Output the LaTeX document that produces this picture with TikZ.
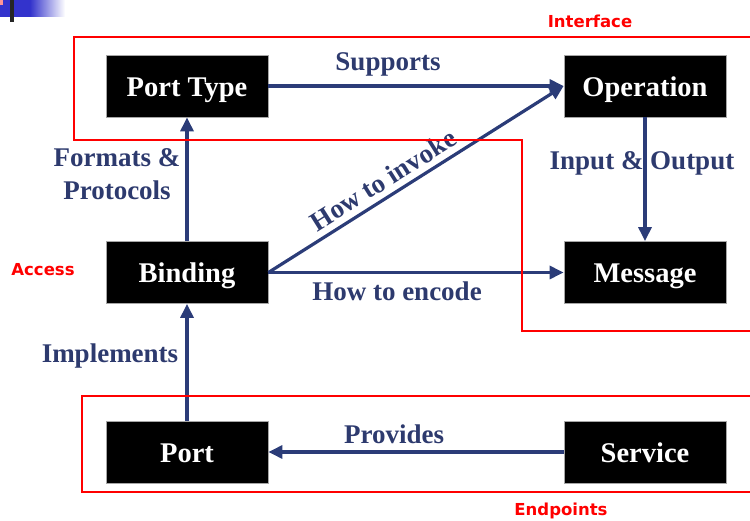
\documentclass[tikz,border=0pt]{standalone}
\usepackage{fontspec}
\setmainfont{Liberation Serif}
\newfontfamily\redfont{DejaVu Sans}
\usetikzlibrary{arrows.meta}
\definecolor{navy}{RGB}{43,60,120}
\definecolor{navytext}{RGB}{45,58,110}
\definecolor{barblue}{RGB}{51,51,204}
\definecolor{barpink}{RGB}{255,150,150}
\begin{document}
\begin{tikzpicture}[x=1pt,y=-1pt,
 box/.style={fill=black,draw=gray!70,line width=0.8pt,minimum width=162pt,minimum height=62pt,inner sep=0pt,text height=21pt,text depth=0pt,text=white,font=\fontsize{28.5}{30}\selectfont\bfseries},
 lab/.style={text=navytext,font=\fontsize{27}{33}\selectfont\bfseries,inner sep=0pt},
 conn/.style={draw=navy,line width=3.2pt,-{Triangle[width=13pt,length=14pt]}},
 zone/.style={draw=red,line width=1.4pt},
 zonelab/.style={text=red,font=\redfont\fontsize{16.5}{18}\selectfont\bfseries,inner sep=0pt}]
\useasboundingbox (0,0) rectangle (750,521);
% corner decoration
\fill[barblue] (0,0) rectangle (30,17);
\shade[left color=barblue,right color=white] (30,0) rectangle (65,17);
\fill[black!85] (10,0) rectangle (13.5,22);
\fill[barpink] (0,0) rectangle (3,5);
% nodes
\node[box] (pt) at (187,86) {Port Type};
\node[box] (op) at (645,86) {Operation};
\node[box] (bd) at (187,272.5) {Binding};
\node[box] (msg) at (645,272.5) {Message};
\node[box] (port) at (187,452) {Port};
\node[box] (svc) at (645,452) {Service};
% connectors
\draw[conn] (pt) -- (op);
\draw[conn] (bd.east) -- (op.west);
\draw[conn] (bd) -- (msg);
\draw[conn] (op) -- (msg);
\draw[conn] (bd) -- (pt);
\draw[conn] (port) -- (bd);
\draw[conn] (svc) -- (port);
% labels
\node[lab] (lsup) at (388,64) {Supports};
\node[lab,align=center] (lfmt) at (117,174) {Formats \&\\Protocols};
\node[lab] (lio) at (642,163) {Input \& Output};
\node[lab] (lenc) at (397,291) {How to encode};
\node[lab] (limp) at (110,356) {Implements};
\node[lab] (lprov) at (394,434) {Provides};
\node[lab,rotate=32.2] (linv) at (383,180) {How to invoke};
% zones
\draw[zone] (755,37) -- (74,37) -- (74,140) -- (522,140) -- (522,331) -- (755,331);
\draw[zone] (755,396) -- (82,396) -- (82,492) -- (755,492);
\node[zonelab] (zint) at (590,21) {Interface};
\node[zonelab] (zacc) at (43,270) {Access};
\node[zonelab] (zend) at (561,511) {Endpoints};
\end{tikzpicture}
\end{document}
